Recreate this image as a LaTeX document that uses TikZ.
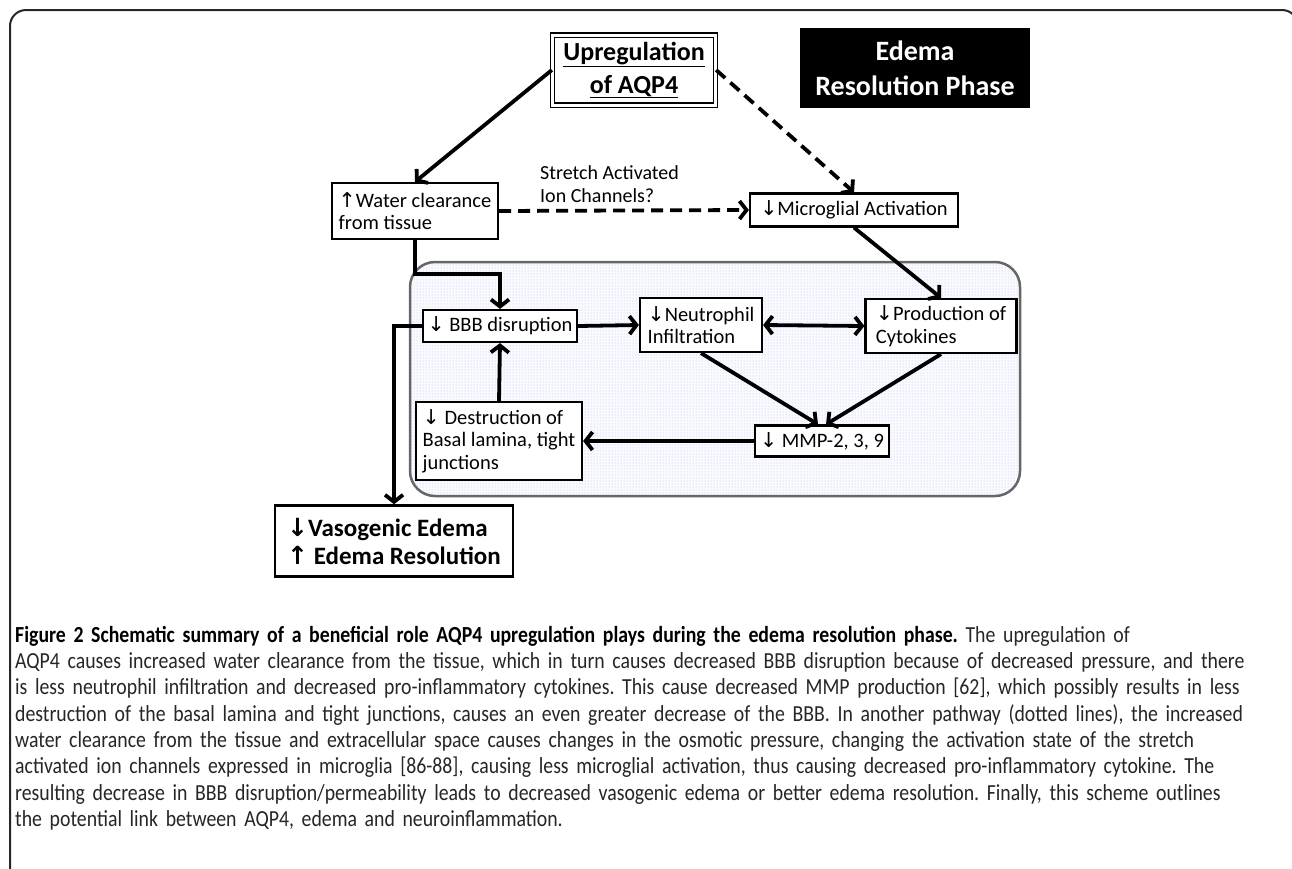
\documentclass[tikz,border=0pt]{standalone}
\usepackage{fontspec}
\setmainfont{Carlito}
\newfontfamily\arrowfont{DejaVu Sans}
\newfontfamily\capfont[FakeStretch=0.86]{Carlito}
\usetikzlibrary{arrows.meta,patterns}
\frenchspacing

\newcommand{\arrdown}{{\arrowfont\char"2193}}
\newcommand{\arrup}{{\arrowfont\char"2191}}

\begin{document}
\begin{tikzpicture}[x=1pt,y=-1pt,
    >={Straight Barb[length=7pt,width=18pt]},
    box/.style={draw, line width=2.2pt, fill=white, align=left, inner sep=0pt,
                font=\fontsize{20.5}{22.5}\selectfont},
    arr/.style={->, line width=3.8pt},
    darr/.style={->, line width=3.8pt, dash pattern=on 12pt off 7pt}]
    \useasboundingbox (0,0) rectangle (1292,868);
    \clip (0,0) rectangle (1292,868);
    % frame of the figure
    \draw[line width=2pt, black!85, rounded corners=16pt] (10,10) rectangle (1298,900);

    % shaded inflammation area
    \fill[blue!2, rounded corners=25pt] (410,262) rectangle (1020,496);
    \fill[pattern=dots, pattern color={rgb,255:red,175;green,195;blue,235}, rounded corners=25pt] (410,262) rectangle (1020,496);
    \draw[line width=2.5pt, black!60, rounded corners=25pt] (410,262) rectangle (1020,496);

    \node[draw, double, double distance=3pt, line width=1.3pt, minimum width=163pt, minimum height=70pt,
          align=center, font=\fontsize{26}{33}\selectfont\bfseries] (aqp) at (634,70)
          {\underline{Upregulation}\\\underline{of AQP4}};
    \node[fill=black, text=white, minimum width=230pt, minimum height=80pt, align=center,
          font=\fontsize{28}{35}\selectfont\bfseries] (phase) at (915,68) {Edema\\Resolution Phase};

    \node[box, minimum width=166pt, minimum height=56pt] (water) at (415,211) {\arrup Water clearance\\from tissue};
    \node[anchor=west, align=left, inner sep=0pt, font=\fontsize{20}{23}\selectfont] (sac) at (540,184)
          {Stretch Activated\\Ion Channels?};
    \node[box, minimum width=208pt, minimum height=33pt] (micro) at (854,210) {\arrdown Microglial Activation};

    \node[box, minimum width=154pt, minimum height=32pt] (bbb) at (500,326) {\arrdown\ BBB disruption};
    \node[box, minimum width=122pt, minimum height=54pt] (neut) at (701,325) {\arrdown Neutrophil\\Infiltration};
    \node[box, minimum width=151pt, minimum height=54pt] (prod) at (941,326) {\arrdown Production of\\Cytokines};
    \node[box, minimum width=134pt, minimum height=31pt] (mmp) at (822,441) {\arrdown\ MMP-2, 3, 9};
    \node[box, minimum width=166pt, minimum height=78pt] (destr) at (499,441)
          {\arrdown\ Destruction of\\Basal lamina, tight\\junctions};
    \node[box, line width=2.5pt, minimum width=238pt, minimum height=71pt,
          font=\fontsize{25}{28}\selectfont\bfseries] (vaso) at (394,541)
          {\arrdown Vasogenic Edema\\\arrup\ Edema Resolution};

    % connectors
    \draw[arr] (aqp.west) -- (water.north);
    \draw[darr] (aqp.east) -- (micro.north);
    \draw[darr] (water.east) -- (micro.west);
    \draw[arr] (water.south) -- ++(0,34) -| (bbb.north);
    \draw[arr] (micro.south) -- (prod.north);
    \draw[arr] (bbb.east) -- (neut.west);
    \draw[arr, <->] (neut.east) -- (prod.west);
    \draw[arr] (neut.south) -- ([xshift=-4pt]mmp.north);
    \draw[arr] (prod.south) -- ([xshift=4pt]mmp.north);
    \draw[arr] (mmp.west) -- (destr.east);
    \draw[arr] (destr.north) -- (bbb.south);
    \draw[arr] (bbb.west) -| (vaso.north);

    % caption
    \node[anchor=north west, inner sep=0pt, text width=1275pt, align=left,
          font=\capfont\fontsize{23}{26.3}\selectfont, text=black!85] (cap) at (15,626)
      {\textcolor{black}{\textbf{Figure 2 Schematic summary of a beneficial role AQP4 upregulation plays during the edema resolution phase.}} The upregulation of\\
       AQP4 causes increased water clearance from the tissue, which in turn causes decreased BBB disruption because of decreased pressure, and there\\
       is less neutrophil infiltration and decreased pro-inflammatory cytokines. This cause decreased MMP production [62], which possibly results in less\\
       destruction of the basal lamina and tight junctions, causes an even greater decrease of the BBB. In another pathway (dotted lines), the increased\\
       water clearance from the tissue and extracellular space causes changes in the osmotic pressure, changing the activation state of the stretch\\
       activated ion channels expressed in microglia [86-88], causing less microglial activation, thus causing decreased pro-inflammatory cytokine. The\\
       resulting decrease in BBB disruption/permeability leads to decreased vasogenic edema or better edema resolution. Finally, this scheme outlines\\
       the potential link between AQP4, edema and neuroinflammation.};
\end{tikzpicture}
\end{document}
